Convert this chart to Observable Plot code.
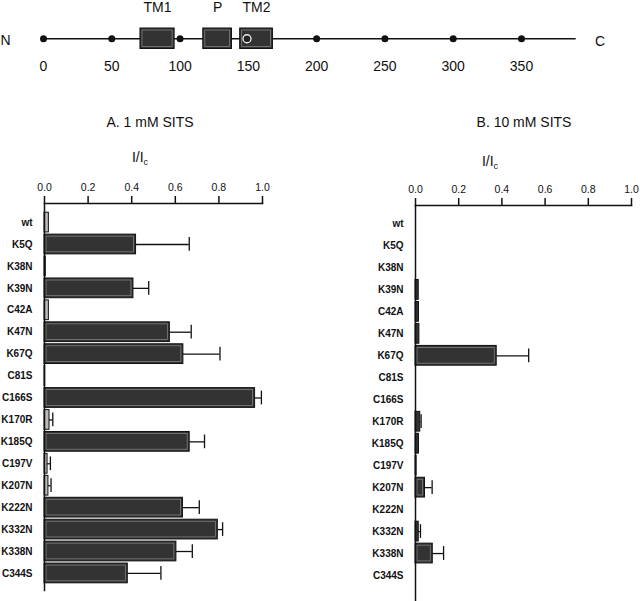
<!DOCTYPE html>
<html><head><meta charset="utf-8">
<script src="https://cdn.jsdelivr.net/npm/d3@7"></script>
<script src="https://cdn.jsdelivr.net/npm/@observablehq/plot@0.6"></script>
<style>
body{margin:0;background:#fff;font-family:"Liberation Sans",Arial,sans-serif;}
#root{position:relative;width:640px;height:601px;overflow:hidden;background:#fff;}
.wrap{position:absolute;}
.t{position:absolute;transform:translate(-50%,-50%);font-size:14px;white-space:nowrap;color:#111;line-height:1;}
.t sub{font-size:9px;vertical-align:-3px;}
svg{overflow:visible;}
</style></head><body><div id="root"></div>
<script>
// ---- data ----
const mutants = ["wt","K5Q","K38N","K39N","C42A","K47N","K67Q","C81S","C166S","K170R","K185Q","C197V","K207N","K222N","K332N","K338N","C344S"];
const mean1mM = [0.02,0.42,0.006,0.408,0.02,0.575,0.637,0.003,0.966,0.023,0.666,0.014,0.018,0.635,0.795,0.605,0.382];
const sem1mM  = [0,0.244,0,0.07,0,0.098,0.168,0,0.029,0.015,0.068,0.013,0.012,0.075,0.022,0.073,0.152];
const mean10mM = [0,0,0,0.015,0.016,0.018,0.376,0,0,0.022,0.016,0.005,0.044,0,0.015,0.08,0];
const sem10mM  = [0,0,0,0,0,0,0.148,0,0,0.004,0,0,0.033,0,0.008,0.05,0];
const xTicks = [0,0.2,0.4,0.6,0.8,1.0];

const proteinLength = 390;
const markerPos = [0,50,100,200,250,300,350];
const seqTickLabels = [0,50,100,150,200,250,300,350];
const domainNames = ["TM1","P","TM2"];
const domainStart = [71,117,144];
const domainEnd = [96,138,168];
const circlePos = [149];

const FONT = "'Liberation Sans', Arial, Helvetica, sans-serif";
const root = document.getElementById("root");

function place(node, left, topPx, width){
  const d = document.createElement("div");
  d.className = "wrap";
  d.style.left = left+"px"; d.style.top = topPx+"px"; d.style.width = width+"px";
  d.appendChild(node); root.appendChild(d);
}
function label(html, x, y){
  const d = document.createElement("div");
  d.className = "t"; d.innerHTML = html;
  d.style.left = x+"px"; d.style.top = y+"px";
  root.appendChild(d);
}

// ---- top diagram ----
const domains = domainNames.map((n,i)=>({name:n,start:domainStart[i],end:domainEnd[i]}));
const diagram = Plot.plot({
  width:640, height:90,
  marginLeft:43, marginRight:119, marginTop:28, marginBottom:41.5,
  x:{domain:[0,350], axis:null}, y:{domain:[-1,1], axis:null},
  style:{fontFamily:FONT, fontSize:"14px", color:"#111", background:"transparent"},
  marks:[
    Plot.ruleY([0],{x1:0, x2:proteinLength, stroke:"#111", strokeWidth:1.4}),
    Plot.rect(domains,{x1:"start",x2:"end",y1:-1,y2:1,fill:"#333",stroke:"#111",strokeWidth:1}),
    Plot.rect(domains,{x1:"start",x2:"end",y1:-1,y2:1,inset:2,fill:"none",stroke:"#8a8a8a",strokeWidth:0.7}),
    Plot.dot(markerPos,{x:d=>d,y:0,r:3.5,fill:"#111",stroke:"none"}),
    Plot.dot(circlePos,{x:d=>d,y:0,r:4,fill:"#222",stroke:"#eee",strokeWidth:1.3}),
    Plot.text(seqTickLabels,{x:d=>d,y:-1,dy:18,text:d=>String(d),fill:"#111"}),
    Plot.text(domains,{x:d=>(d.start+d.end)/2,y:1,dy:-21,text:"name",fill:"#111"}),
    Plot.text(["N"],{x:0,y:0,dx:-38,dy:2,text:d=>d,fill:"#111"}),
    Plot.text(["C"],{x:proteinLength,y:0,dx:24,dy:3,text:d=>d,fill:"#111"})
  ]
});
place(diagram,0,0,640);

// ---- bar panels ----
function panel(mean, sem, o){
  const data = mutants.map((m,i)=>({m, v:mean[i], e:sem[i]}));
  const errs = data.filter(d=>d.e>0);
  return Plot.plot({
    width:o.width, height:501,
    marginLeft:o.ml, marginRight:o.mr, marginTop:o.mt, marginBottom:o.mb,
    insetTop:o.it, insetBottom:o.ib,
    x:{domain:[0,1]}, y:{domain:mutants, padding:0.1, round:false},
    style:{fontFamily:FONT, fontSize:"10.5px", color:"#111", background:"transparent"},
    marks:[
      Plot.barX(data.filter(d=>d.v>0),{x:"v",y:"m",fill:d=>d.v<0.03?o.smallFill:"#333",stroke:"#111",strokeWidth:1}),
      Plot.barX(data.filter(d=>d.v>0.03),{x1:0,x2:"v",y:"m",insetTop:2,insetBottom:2,insetLeft:2,insetRight:2,fill:"none",stroke:"#8a8a8a",strokeWidth:0.7}),
      Plot.ruleY(errs,{x1:"v",x2:d=>d.v+d.e,y:"m",stroke:"#111",strokeWidth:1.3}),
      Plot.tickX(errs,{x:d=>d.v+d.e,y:"m",insetTop:3,insetBottom:3,stroke:"#111",strokeWidth:1.3}),
      Plot.frame({anchor:"top",stroke:"#111",strokeWidth:1.5}),
      Plot.frame({anchor:"left",stroke:"#111",strokeWidth:1.5}),
      Plot.axisX({anchor:"top",ticks:xTicks,tickFormat:d3.format(".1f"),tickSize:8,tickPadding:5,strokeWidth:1.5,label:null}),
      Plot.axisY({tickSize:0,tickPadding:12,fontWeight:"bold",fontSize:10,label:null})
    ]
  });
}

place(panel(mean1mM, sem1mM, {width:300, ml:44, mr:38, mt:103, mb:11, it:7, ib:5, smallFill:"#bbb"}), 0, 100, 300);
place(panel(mean10mM, sem10mM, {width:320, ml:95, mr:9, mt:105, mb:1, it:6.4, ib:12.9, smallFill:"#333"}), 320, 100, 320);

label("A. 1 mM SITS", 150, 122);
label("I/I<sub>c</sub>", 140, 158);
label("B. 10 mM SITS", 524, 122);
label("I/I<sub>c</sub>", 490, 162);
</script></body></html>
